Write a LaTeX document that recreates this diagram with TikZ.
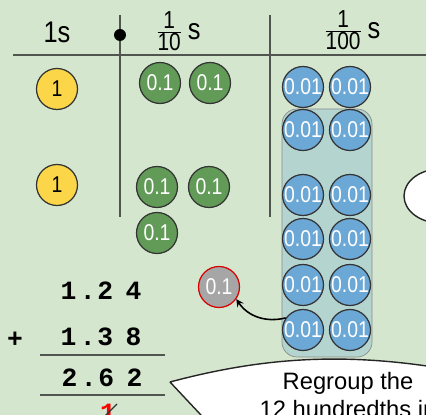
\documentclass[tikz,border=0pt]{standalone}
\usepackage{fontspec}
\setmainfont{Liberation Sans}
\newfontfamily\narrowfont{Liberation Sans}[FakeStretch=0.85]
\newfontfamily\sumfont{Liberation Mono}
\definecolor{bgcol}{RGB}{213,230,207}
\definecolor{onecol}{RGB}{250,214,72}
\definecolor{tenthcol}{RGB}{98,155,88}
\definecolor{hundcol}{RGB}{108,168,214}
\definecolor{boxcol}{RGB}{180,212,207}
\definecolor{rulecol}{RGB}{80,85,80}
\newcommand\partfrac[1]{$\frac{\mbox{\narrowfont\fontsize{14}{14}\selectfont 1}}{\mbox{\narrowfont\fontsize{14}{14}\selectfont #1}}$\,s}
\newcommand\decnum[3]{#1\hspace{2pt}.\hspace{1pt}#2\hspace{7pt}#3}
\begin{document}
\begin{tikzpicture}[
x=0.02cm,y=-0.02cm,
coin/.style={
circle,
draw=black!80,
line width=0.7pt,
minimum size=0.82cm,
inner sep=0pt,
font=\narrowfont\fontsize{13}{14}\selectfont
},
one/.style={coin,fill=onecol,text=black},
tenth/.style={coin,fill=tenthcol,text=white},
hundredth/.style={coin,fill=hundcol,text=white},
head/.style={font=\narrowfont\fontsize{17}{18}\selectfont},
sum/.style={font=\sumfont\bfseries\fontsize{15}{16}\selectfont}
]

\clip (0,0) rectangle (426,415);
\fill[bgcol] (0,0) rectangle (426,415);

\draw[rulecol,line width=1pt] (13,55) -- (426,55);
\draw[rulecol,line width=1pt] (120,15) -- (120,217);
\draw[rulecol,line width=1pt] (270,15) -- (270,217);
\fill[black] (120,35) circle (6);

\node[head] (ones) at (57,32) {1s};
\node[head] (tenths) at (178,31) {\partfrac{10}};
\node[head] (hundredths) at (352,30) {\partfrac{100}};

\draw[draw=black!45,fill=boxcol,rounded corners=0.3cm] (282,109) rectangle (372,357);

\node[one] (o1) at (57,89) {1};
\node[one] (o2) at (57,185) {1};

\node[tenth] (t1) at (160,83) {0.1};
\node[tenth] (t2) at (210,83) {0.1};
\node[tenth] (t3) at (157,187) {0.1};
\node[tenth] (t4) at (209,187) {0.1};
\node[tenth] (t5) at (157,233) {0.1};

\node[hundredth] (h11) at (303,87) {0.01};
\node[hundredth] (h12) at (350,87) {0.01};
\node[hundredth] (h21) at (303,130) {0.01};
\node[hundredth] (h22) at (350,130) {0.01};
\node[hundredth] (h31) at (303,195) {0.01};
\node[hundredth] (h32) at (350,195) {0.01};
\node[hundredth] (h41) at (303,239) {0.01};
\node[hundredth] (h42) at (350,239) {0.01};
\node[hundredth] (h51) at (303,285) {0.01};
\node[hundredth] (h52) at (350,285) {0.01};
\node[hundredth] (h61) at (303,330) {0.01};
\node[hundredth] (h62) at (350,330) {0.01};

\node[coin,fill=black!35,draw=red!85!black,text=white] (g) at (219,287) {0.1};

\draw[-stealth,line width=0.9pt] (h61.145) to[bend left=35] (g.-35);

\node[sum] (a) at (101,291) {\decnum{1}{2}{4}};
\node[sum] (plus) at (15,340) {+};
\node[sum] (b) at (101,337) {\decnum{1}{3}{8}};
\draw[rulecol,line width=1pt] (40,355) -- (165,355);
\node[sum] (c) at (102,378) {\decnum{2}{6}{2}};
\draw[rulecol,line width=1pt] (40,395) -- (165,395);
\node[sum,text=red] (carry) at (108,413) {1};
\draw[black!80,line width=0.8pt] (100,421) -- (117,404);

\draw[black!85,line width=0.8pt,fill=white] (440,196) ellipse [x radius=36, y radius=27];

\draw[black!85,line width=0.8pt,fill=white] (170,382) -- (215,430) -- (440,430) -- (440,368)
.. controls (340,352) and (260,358) .. (170,382);
\node[align=center,font=\fontsize{13.5}{16}\selectfont] (note) at (348,395) {Regroup the\\12 hundredths in};

\end{tikzpicture}
\end{document}
